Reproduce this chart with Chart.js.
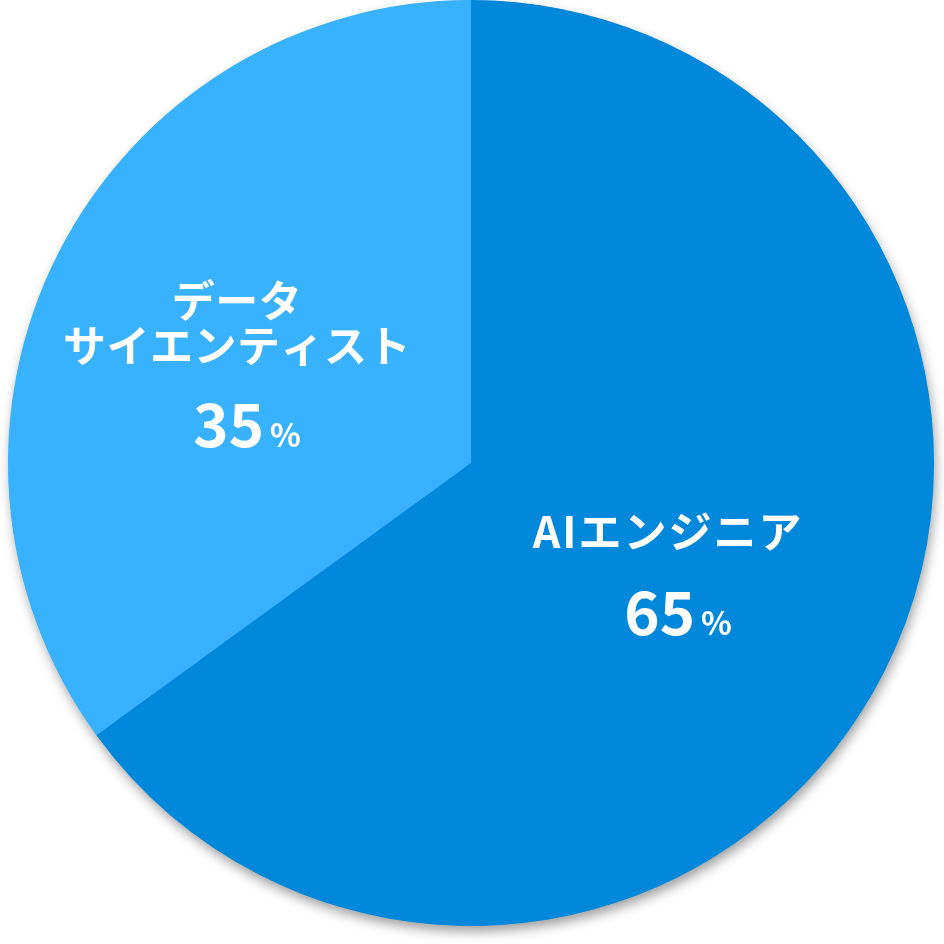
<!DOCTYPE html>
<html><head><meta charset="utf-8">
<script src="https://cdn.jsdelivr.net/npm/chart.js@4"></script>
<style>html,body{margin:0;padding:0;background:#fff;}#c{display:block;}</style>
</head><body>
<canvas id="c" width="944" height="944"></canvas>
<script>
const categories = [['AIエンジニア'], ['データ', 'サイエンティスト']];
const values = [65, 35];
const percentLabels = ['65', '35'];
const colors = ['#0288DB', '#38B2FF'];

const FONT = '"Noto Sans CJK JP", "Noto Sans", sans-serif';

const shadowPlugin = {
  id: 'shadowPlugin',
  beforeDatasetsDraw(chart) {
    const arc = chart.getDatasetMeta(0).data[0];
    if (!arc) return;
    const ctx = chart.ctx;
    ctx.save();
    ctx.shadowColor = 'rgba(0,0,0,0.38)';
    ctx.shadowBlur = 12;
    ctx.shadowOffsetX = 2;
    ctx.shadowOffsetY = 6;
    ctx.fillStyle = colors[0];
    ctx.beginPath();
    ctx.arc(arc.x, arc.y, arc.outerRadius - 0.5, 0, Math.PI * 2);
    ctx.fill();
    ctx.restore();
  }
};

const labelPlugin = {
  id: 'labelPlugin',
  afterDatasetsDraw(chart, args, opts) {
    const ctx = chart.ctx;
    const meta = chart.getDatasetMeta(0);
    meta.data.forEach((arc, i) => {
      const cfg = opts.layout[i];
      const mid = (arc.startAngle + arc.endAngle) / 2;
      const ax = arc.x + Math.cos(mid) * arc.outerRadius * cfg.f + cfg.dx;
      const ay = arc.y + Math.sin(mid) * arc.outerRadius * cfg.f;
      ctx.save();
      ctx.fillStyle = '#ffffff';
      ctx.textAlign = 'center';
      ctx.textBaseline = 'middle';
      ctx.font = 'bold 43px ' + FONT;
      try { ctx.letterSpacing = cfg.ls + 'px'; } catch (e) {}
      categories[i].forEach((line, j) => {
        ctx.fillText(line, ax, ay + cfg.lines[j]);
      });
      try { ctx.letterSpacing = '0px'; } catch (e) {}
      // percent row
      ctx.textBaseline = 'alphabetic';
      ctx.textAlign = 'left';
      ctx.font = 'bold 60px ' + FONT;
      const wNum = ctx.measureText(percentLabels[i]).width;
      ctx.font = 'bold 32px ' + FONT;
      const wPct = ctx.measureText('%').width;
      const gap = 6;
      const total = wNum + gap + wPct;
      const sx = ax + cfg.pdx - total / 2;
      const by = ay + cfg.pct;
      ctx.font = 'bold 60px ' + FONT;
      ctx.fillText(percentLabels[i], sx, by);
      ctx.font = 'bold 32px ' + FONT;
      ctx.fillText('%', sx + wNum + gap, by);
      ctx.restore();
    });
  }
};

new Chart(document.getElementById('c'), {
  type: 'pie',
  data: {
    labels: categories.map(c => c.join('')),
    datasets: [{
      data: values,
      backgroundColor: colors,
      borderWidth: 0,
      hoverOffset: 0
    }]
  },
  options: {
    responsive: false,
    animation: false,
    devicePixelRatio: 1,
    layout: { padding: { left: 8, right: 10, top: 0, bottom: 18 } },
    plugins: {
      legend: { display: false },
      tooltip: { enabled: false },
      labelPlugin: {
        layout: [
          { f: 0.485, dx: -3, ls: 2, lines: [-33], pct: 70, pdx: 10 },
          { f: 0.55, dx: -7, ls: 0.5, lines: [-47, -2], pct: 100, pdx: 10 }
        ]
      }
    }
  },
  plugins: [shadowPlugin, labelPlugin]
});
</script>
</body></html>
